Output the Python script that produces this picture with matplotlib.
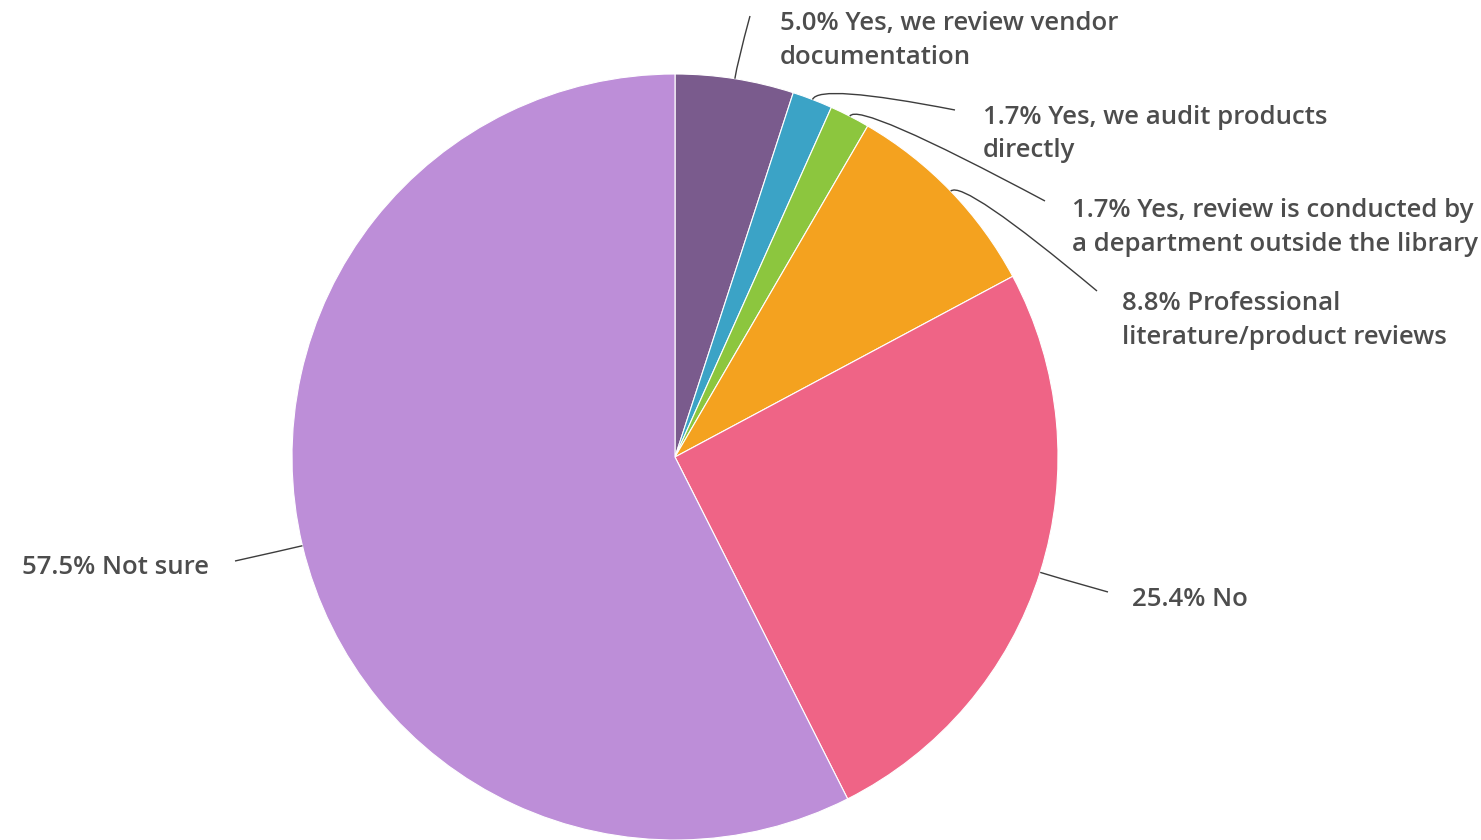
import matplotlib
matplotlib.use("Agg")
import matplotlib.pyplot as plt
import numpy as np
from matplotlib.path import Path
from matplotlib.patches import PathPatch

# data
labels = ["Yes, we review vendor\ndocumentation",
          "Yes, we audit products\ndirectly",
          "Yes, review is conducted by\na department outside the library",
          "Professional\nliterature/product reviews",
          "No",
          "Not sure"]
values = [5.0, 1.7, 1.7, 8.8, 25.4, 57.5]
colors = ["#7a5b8d", "#3ba3c6", "#8cc63e", "#f4a21f", "#ef6486", "#bd8ed8"]

# label layout in pixels (text anchor x, centre y of text block, end of leader)
text_px = [(780, 40.5), (983, 134), (1072, 227.5), (1122, 320.5), (1132, 599), (209, 568)]
leader_end_px = [(750, 16), (955, 110), (1045, 201), (1097, 291), (1108, 592), (235, 561)]
halign = ["left", "left", "left", "left", "left", "right"]

W, H = 1481, 840
cx, cy, R = 675, 457, 383

def to_data(p):
    return ((p[0] - cx) / R, (cy - p[1]) / R)

fig = plt.figure(figsize=(W / 100, H / 100), dpi=100)
fig.patch.set_facecolor("white")
ax = fig.add_axes([0, 0, 1, 1])

wedges, _ = ax.pie(values, colors=colors, startangle=90, counterclock=False,
                   radius=1, center=(0, 0), frame=True,
                   wedgeprops=dict(edgecolor="white", linewidth=0.8))
ax.set_xlim(-cx / R, (W - cx) / R)
ax.set_ylim(-(H - cy) / R, cy / R)
ax.set_aspect("auto")
ax.axis("off")

total = sum(values)
start = 0.0
for i, v in enumerate(values):
    mid = start + v / total * 360 / 2   # clockwise from top, degrees
    start += v / total * 360
    a = np.radians(mid)
    ux, uy = np.sin(a), np.cos(a)
    p0 = (ux, uy)
    p1 = (ux * 1.045, uy * 1.045)
    p2 = to_data(leader_end_px[i])
    path = Path([p0, p1, p2], [Path.MOVETO, Path.CURVE3, Path.CURVE3])
    ax.add_patch(PathPatch(path, fill=False, edgecolor="#3d3d3d", linewidth=1.0))
    tx, ty = to_data(text_px[i])
    ax.text(tx, ty, "%.1f%% %s" % (v, labels[i]), ha=halign[i], va="center",
            fontsize=18.5, color="#4d4d4d", linespacing=1.45,
            family=["Open Sans", "DejaVu Sans"], fontweight="semibold")

fig.savefig("out.png", dpi=100)
